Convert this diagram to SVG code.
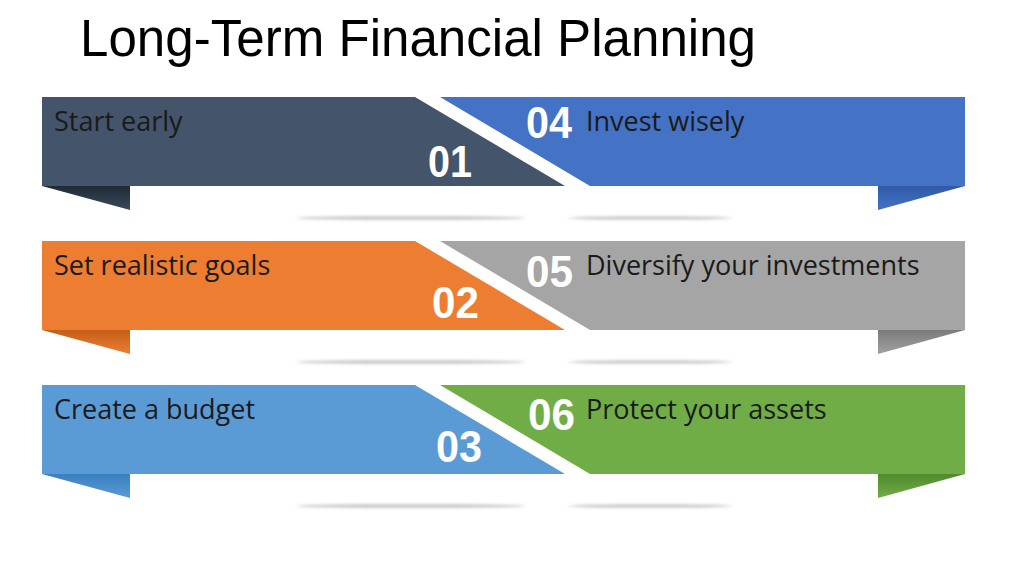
<svg xmlns="http://www.w3.org/2000/svg" width="1024" height="576" viewBox="0 0 1024 576">
<defs>
<style>
.title{font-family:"Liberation Sans",Arial,sans-serif;font-size:51px;fill:#000}
.lbl{font-family:"Open Sans","Noto Sans",sans-serif;font-size:27px;fill:#1a1a1a}
.num{font-family:"Liberation Sans",Arial,sans-serif;font-weight:bold;font-size:44px;fill:#fff}
</style>
<filter id="blur" x="-20%" y="-300%" width="140%" height="700%"><feGaussianBlur stdDeviation="1.6"/></filter>
<linearGradient id="t1" x1="0" y1="0" x2="0" y2="1"><stop offset="0" stop-color="#1f2a36"/><stop offset="1" stop-color="#3a4a5c"/></linearGradient>
<linearGradient id="t4" x1="0" y1="0" x2="0" y2="1"><stop offset="0" stop-color="#2f5aa8"/><stop offset="1" stop-color="#4472c4"/></linearGradient>
<linearGradient id="t2" x1="0" y1="0" x2="0" y2="1"><stop offset="0" stop-color="#c45f18"/><stop offset="1" stop-color="#ed7d31"/></linearGradient>
<linearGradient id="t5" x1="0" y1="0" x2="0" y2="1"><stop offset="0" stop-color="#7c7c7c"/><stop offset="1" stop-color="#a0a0a0"/></linearGradient>
<linearGradient id="t3" x1="0" y1="0" x2="0" y2="1"><stop offset="0" stop-color="#3a7fc0"/><stop offset="1" stop-color="#5b9bd5"/></linearGradient>
<linearGradient id="t6" x1="0" y1="0" x2="0" y2="1"><stop offset="0" stop-color="#4f8a2c"/><stop offset="1" stop-color="#70ad47"/></linearGradient>
</defs>
<rect width="1024" height="576" fill="#fff"/>
<text class="title" x="80" y="56" textLength="676" lengthAdjust="spacingAndGlyphs">Long-Term Financial Planning</text>

<g id="shadows" fill="#9a9a9a" filter="url(#blur)" opacity="0.6">
<ellipse cx="411" cy="218" rx="115" ry="1.8"/>
<ellipse cx="650" cy="218" rx="83" ry="1.6"/>
<ellipse cx="411" cy="362" rx="115" ry="1.8"/>
<ellipse cx="650" cy="362" rx="83" ry="1.6"/>
<ellipse cx="411" cy="506" rx="115" ry="1.8"/>
<ellipse cx="650" cy="506" rx="83" ry="1.6"/>
</g>

<g id="node1">
<polygon points="42,186 130,186 130,210" fill="url(#t1)"/>
<polygon points="42,97 415,97 565,186 42,186" fill="#44546a"/>
<text class="lbl" x="54" y="131">Start early</text>
<text class="num" x="428" y="177" textLength="44" lengthAdjust="spacingAndGlyphs">01</text>
</g>
<g id="node4">
<polygon points="965,186 878,186 878,210" fill="url(#t4)"/>
<polygon points="440,97 965,97 965,186 590,186" fill="#4472c4"/>
<text class="num" x="526" y="138" textLength="46" lengthAdjust="spacingAndGlyphs">04</text>
<text class="lbl" x="586" y="131">Invest wisely</text>
</g>

<g id="node2">
<polygon points="42,330 130,330 130,354" fill="url(#t2)"/>
<polygon points="42,241 415,241 565,330 42,330" fill="#ed7d31"/>
<text class="lbl" x="54" y="275">Set realistic goals</text>
<text class="num" x="432" y="318" textLength="47" lengthAdjust="spacingAndGlyphs">02</text>
</g>
<g id="node5">
<polygon points="965,330 878,330 878,354" fill="url(#t5)"/>
<polygon points="440,241 965,241 965,330 590,330" fill="#a5a5a5"/>
<text class="num" x="526" y="287" textLength="47" lengthAdjust="spacingAndGlyphs">05</text>
<text class="lbl" x="586" y="275">Diversify your investments</text>
</g>

<g id="node3">
<polygon points="42,474 130,474 130,498" fill="url(#t3)"/>
<polygon points="42,385 415,385 565,474 42,474" fill="#5b9bd5"/>
<text class="lbl" x="54" y="419">Create a budget</text>
<text class="num" x="436" y="462" textLength="46" lengthAdjust="spacingAndGlyphs">03</text>
</g>
<g id="node6">
<polygon points="965,474 878,474 878,498" fill="url(#t6)"/>
<polygon points="440,385 965,385 965,474 590,474" fill="#70ad47"/>
<text class="num" x="528" y="430" textLength="47" lengthAdjust="spacingAndGlyphs">06</text>
<text class="lbl" x="586" y="419">Protect your assets</text>
</g>
</svg>
